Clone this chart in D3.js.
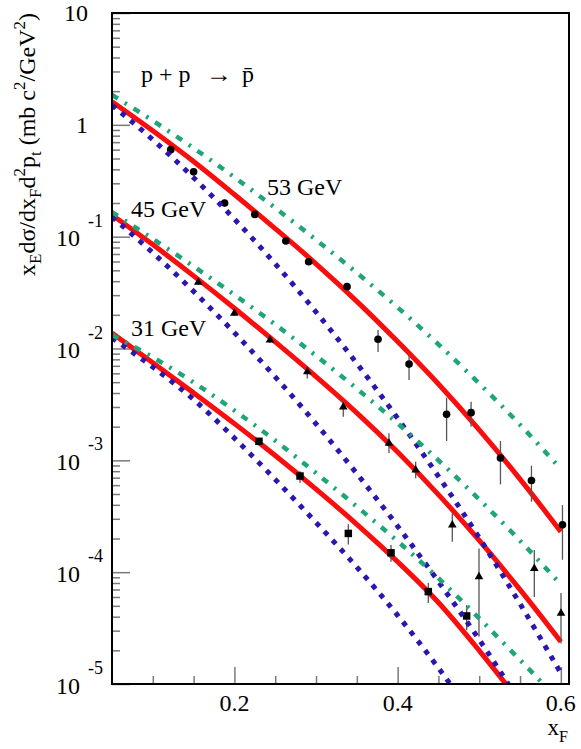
<!DOCTYPE html>
<html><head><meta charset="utf-8">
<script src="https://cdn.jsdelivr.net/npm/d3@7"></script>
<style>
body{margin:0;background:#fff}
svg{display:block}
text{font-family:"Liberation Serif","Times New Roman",serif;fill:#000}
</style>
</head><body>
<svg id="c" width="581" height="749"></svg>
<script>
// ---- data ----
const xGrid = [0.05,0.10,0.15,0.20,0.25,0.30,0.35,0.40,0.45,0.50,0.55,0.60];

// 53 GeV model curves
const red53   = [1.61,0.885,0.470,0.238,0.118,0.0572,0.0264,0.01153,0.00481,0.00187,0.000679,0.000230];
const green53 = [1.85,1.089,0.619,0.340,0.1807,0.0938,0.0475,0.0233,0.01089,0.00486,0.00208,0.000836];
const blue53  = [1.50,0.736,0.3365,0.1435,0.0572,0.0212,0.00736,0.00238,0.000719,0.000203,0.0000521,0.0000125];
// 45 GeV model curves
const red45   = [0.1563,0.0849,0.0446,0.0229,0.01146,0.00561,0.00266,0.001186,0.000494,0.000192,0.0000698,0.0000239];
const green45 = [0.166,0.0955,0.0543,0.0302,0.0164,0.00861,0.00437,0.00214,0.00100,0.000447,0.000191,0.0000776];
const blue45  = [0.150,0.0718,0.0324,0.01384,0.00557,0.00212,0.00076,0.000258,0.0000824,0.0000249,0.00000686,null];
// 31 GeV model curves
const red31   = [0.01374,0.00746,0.00401,0.00213,0.001104,0.000553,0.000268,0.000124,0.0000535,0.0000199,0.00000689,null];
const green31 = [0.01321,0.00834,0.00497,0.00279,0.00150,0.000769,0.000386,0.000189,0.0000883,0.0000386,0.0000164,0.00000686];
const blue31  = [0.01242,0.00682,0.00350,0.00158,0.000675,0.000278,0.000111,0.0000411,0.0000139,0.00000431,null,null];

// 53 GeV data (circles)
const x53  = [0.122,0.150,0.188,0.225,0.263,0.291,0.338,0.376,0.414,0.460,0.490,0.526,0.564,0.602];
const y53  = [0.60,0.38,0.20,0.158,0.0914,0.0597,0.0357,0.0121,0.00726,0.00258,0.00267,0.00105,0.00066,0.000265];
const lo53 = [0.575,0.36,0.185,0.150,0.087,0.0565,0.0335,0.0093,0.00522,0.00149,0.0020,0.00061,0.000427,0.000129];
const hi53 = [0.625,0.40,0.215,0.166,0.096,0.063,0.038,0.0146,0.00875,0.00363,0.00334,0.00149,0.000895,0.000398];
// 45 GeV data (triangles)
const x45  = [0.1557,0.1999,0.2436,0.2893,0.3334,0.3894,0.4221,0.467,0.4997,0.5675,0.6002];
const y45  = [0.0391,0.0207,0.0119,0.0062,0.0030,0.00142,0.00082,0.000264,0.000091,0.000108,0.000043];
const lo45 = [0.037,0.0195,0.0112,0.0054,0.00245,0.00116,0.00069,0.000187,0.0000265,0.000060,0.000023];
const hi45 = [0.0413,0.0220,0.0127,0.0069,0.00346,0.00175,0.00097,0.000336,0.000163,0.000158,0.000065];
// 31 GeV data (squares)
const x31  = [0.2301,0.2804,0.3396,0.3919,0.4376,0.4846];
const y31  = [0.00148,0.000724,0.000222,0.000149,0.000067,0.0000406];
const lo31 = [0.00140,0.00063,0.000177,0.000124,0.000053,0.0000304];
const hi31 = [0.00157,0.00080,0.000268,0.000175,0.000080,0.0000508];

// axis ticks / labels
const xTickLabels = [0.2,0.4,0.6];
const xMinorTicks = [0.1,0.15,0.25,0.3,0.35,0.45,0.5,0.55];
const yMajorTicks = [1e-5,1e-4,1e-3,1e-2,1e-1,1,10];
const yLabelBase  = ["10","10","10","10","10","1","10"];
const yLabelExp   = ["-5","-4","-3","-2","-1","",""];
const energyLabels = ["53 GeV","45 GeV","31 GeV"];

// ---- drawing ----
const L=112,T=13,R=569,B=684;
const svg = d3.select("#c");
const x = d3.scaleLinear().domain([0.05,0.61]).range([L,R]);
const y = d3.scaleLog().domain([1e-5,10]).range([B,T]);

svg.append("defs").append("clipPath").attr("id","clip")
  .append("rect").attr("x",L).attr("y",T).attr("width",R-L).attr("height",B-T);

// ticks (inward, grey)
const yMinor = [];
for (let n=-5;n<=0;n++) for (let k=2;k<=9;k++) yMinor.push(k*Math.pow(10,n));
function styleAxis(g){ g.select(".domain").remove(); g.selectAll("line").attr("stroke","#7a7a7a").attr("stroke-width",1.5); g.selectAll("text").remove(); }
svg.append("g").attr("transform",`translate(${L},0)`)
  .call(d3.axisLeft(y).tickValues(yMinor).tickSize(-8).tickFormat("")).call(styleAxis);
svg.append("g").attr("transform",`translate(${L},0)`)
  .call(d3.axisLeft(y).tickValues(yMajorTicks).tickSize(-18).tickFormat("")).call(styleAxis);
svg.append("g").attr("transform",`translate(0,${B})`)
  .call(d3.axisBottom(x).tickValues(xMinorTicks).tickSize(-8).tickFormat("")).call(styleAxis);
svg.append("g").attr("transform",`translate(0,${B})`)
  .call(d3.axisBottom(x).tickValues(xTickLabels).tickSize(-17).tickFormat("")).call(styleAxis);

// plot contents
const plot = svg.append("g").attr("clip-path","url(#clip)");
const line = d3.line().defined(d=>d[1]!=null).x(d=>x(d[0])).y(d=>y(d[1])).curve(d3.curveMonotoneX);
const pts = arr => xGrid.map((v,i)=>[v,arr[i]]);

const RED="#fb0d0d", BLUE="#2b16b0", GREEN="#1ea57a";
[red53,red45,red31].forEach(a=>plot.append("path").attr("d",line(pts(a)))
  .attr("fill","none").attr("stroke",RED).attr("stroke-width",5));

// error bars and markers
function drawData(xs,ys,lo,hi,sym,size){
  const g = plot.append("g");
  xs.forEach((xv,i)=>{
    g.append("line").attr("x1",x(xv)).attr("x2",x(xv)).attr("y1",y(lo[i])).attr("y2",y(hi[i]))
      .attr("stroke","#555").attr("stroke-width",1.3);
  });
  xs.forEach((xv,i)=>{
    g.append("path").attr("d",d3.symbol().type(sym).size(size)())
      .attr("transform",`translate(${x(xv)},${y(ys[i])})`).attr("fill","#000");
  });
}
drawData(x53,y53,lo53,hi53,d3.symbolCircle,46);
drawData(x45,y45,lo45,hi45,d3.symbolTriangle,32);
drawData(x31,y31,lo31,hi31,d3.symbolSquare,56);

[blue53,blue45,blue31].forEach(a=>plot.append("path").attr("d",line(pts(a)))
  .attr("fill","none").attr("stroke",BLUE).attr("stroke-width",5).attr("stroke-dasharray","5,7"));
[green53,green45,green31].forEach(a=>plot.append("path").attr("d",line(pts(a)))
  .attr("fill","none").attr("stroke",GREEN).attr("stroke-width",4.5).attr("stroke-dasharray","7,8,2.5,8"));

// frame
svg.append("rect").attr("x",L).attr("y",T).attr("width",R-L).attr("height",B-T)
  .attr("fill","none").attr("stroke","#000").attr("stroke-width",2);

// y tick labels
yMajorTicks.forEach((v,i)=>{
  const py = y(v);
  if (yLabelExp[i]) {
    svg.append("text").attr("x",80).attr("y",py+9.5).attr("text-anchor","end")
      .attr("font-size",24).text(yLabelBase[i]);
    svg.append("text").attr("x",88).attr("y",py-10).attr("text-anchor","start")
      .attr("font-size",18).text(yLabelExp[i]);
  } else {
    svg.append("text").attr("x",88).attr("y",py+8).attr("text-anchor","end")
      .attr("font-size",24).text(yLabelBase[i]);
  }
});
// x tick labels
xTickLabels.forEach(v=>{
  svg.append("text").attr("x",x(v)).attr("y",711).attr("text-anchor","middle")
    .attr("font-size",24).text(d3.format(".1f")(v));
});

// axis titles
const xt = svg.append("text").attr("x",568).attr("y",735).attr("text-anchor","end").attr("font-size",23);
xt.append("tspan").text("x");
xt.append("tspan").attr("font-size",16).attr("dy",7).text("F");

const yt = svg.append("text").attr("transform","translate(35,13) rotate(-90)")
  .attr("text-anchor","end").attr("font-size",24);
const parts = [["x",0,24],["E",6,17],["dσ/dx",-6,24],["F",6,17],["d",-6,24],["2",-10,17],["p",10,24],["t",6,17],
  [" (mb c",-6,24],["2",-10,17],["/GeV",10,24],["2",-10,17],[")",10,24]];
parts.forEach(p=>yt.append("tspan").attr("dy",p[1]).attr("font-size",p[2]).text(p[0]));

// annotations
const rx = svg.append("g");
rx.append("text").attr("x",141).attr("y",82).attr("font-size",24).text("p + p");
rx.append("text").attr("x",206).attr("y",82).attr("font-size",24)
  .attr("textLength",26).attr("lengthAdjust","spacingAndGlyphs").text("\u2192");
rx.append("text").attr("x",242).attr("y",82).attr("font-size",24).text("p\u0304");

svg.append("text").attr("x",267).attr("y",195).attr("font-size",24).text(energyLabels[0]);
svg.append("text").attr("x",131).attr("y",216.5).attr("font-size",24).text(energyLabels[1]);
svg.append("text").attr("x",131).attr("y",336).attr("font-size",24).text(energyLabels[2]);
</script>
</body></html>
